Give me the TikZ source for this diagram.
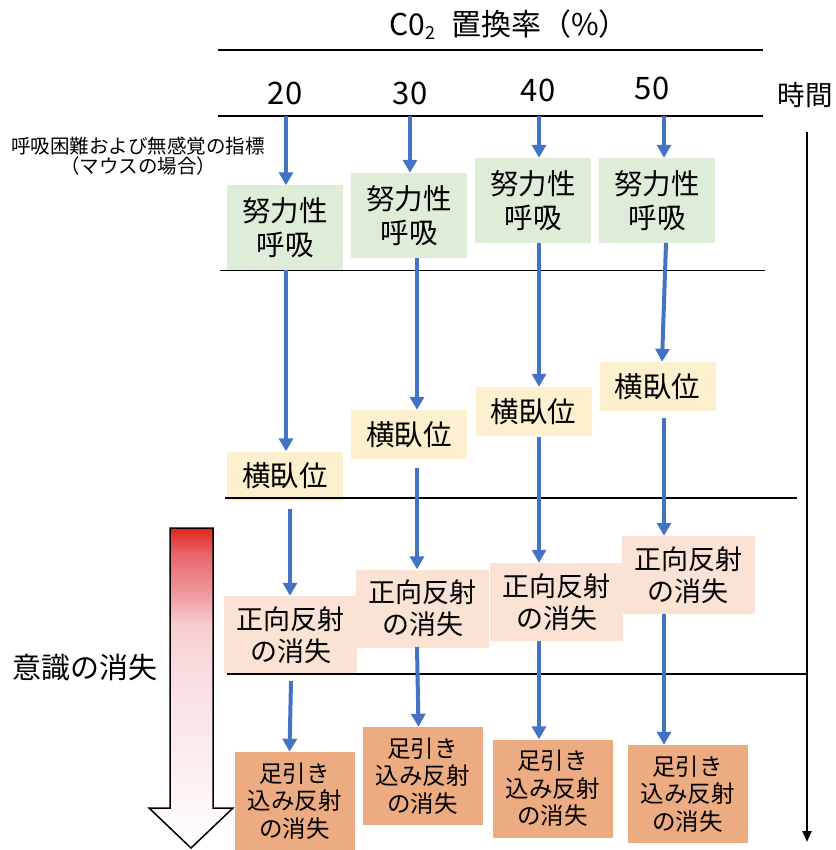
\documentclass[tikz,border=0pt]{standalone}
\usepackage{fontspec}
\setmainfont{Noto Sans CJK JP}
\usetikzlibrary{arrows.meta,calc}
\definecolor{gfill}{HTML}{DEEDD8}
\definecolor{yfill}{HTML}{FDF0CE}
\definecolor{pfill}{HTML}{FAE3D5}
\definecolor{ofill}{HTML}{ECAB80}
\definecolor{arrblue}{HTML}{4472C4}
\definecolor{sA}{HTML}{FCEEEF}
\definecolor{sB}{HTML}{F9DCDF}
\definecolor{sC}{HTML}{F6CDD0}
\definecolor{sD}{HTML}{F0A0A5}
\definecolor{sE}{HTML}{E86568}
\definecolor{sF}{HTML}{E32320}
\pgfdeclareverticalshading{consc}{100bp}{color(0bp)=(white); color(25bp)=(white); color(38bp)=(sA); color(53bp)=(sB); color(60bp)=(sC); color(64bp)=(sD); color(71bp)=(sE); color(75bp)=(sF); color(100bp)=(sF)}
\begin{document}
\begin{tikzpicture}[x=1pt,y=-1pt,
  box/.style={inner sep=0pt, align=center, text=black},
  gbox/.style={box, fill=gfill, minimum width=116pt, minimum height=85pt, font=\fontsize{28.5}{34}\selectfont},
  ybox/.style={box, fill=yfill, minimum width=116pt, minimum height=49pt, font=\fontsize{28.5}{34}\selectfont},
  pbox/.style={box, fill=pfill, minimum width=133pt, minimum height=78pt, font=\fontsize{27}{32}\selectfont},
  obox/.style={box, fill=ofill, minimum width=120pt, minimum height=98pt, font=\fontsize{23.5}{27.5}\selectfont},
  arr/.style={draw=arrblue, line width=4pt, -{Triangle[width=14pt,length=13pt]}},
  rule/.style={draw=black, line width=1.5pt},
  lbl/.style={inner sep=0pt, align=center}
]
\useasboundingbox (0,0) rectangle (835,850);

% boxes
\node[gbox] (G1) at (285,228) {努力性\\呼吸};
\node[gbox] (G2) at (409,215.5) {努力性\\呼吸};
\node[gbox] (G3) at (533,200.5) {努力性\\呼吸};
\node[gbox] (G4) at (657,200.5) {努力性\\呼吸};

\node[ybox] (Y1) at (285,476) {横臥位};
\node[ybox] (Y2) at (409,434.5) {横臥位};
\node[ybox] (Y3) at (533.5,411.5) {横臥位};
\node[ybox] (Y4) at (657.5,386.5) {横臥位};

\node[pbox] (P1) at (290.5,635) {正向反射\\の消失};
\node[pbox] (P2) at (422.5,608.5) {正向反射\\の消失};
\node[pbox] (P3) at (556.5,602) {正向反射\\の消失};
\node[pbox] (P4) at (688,575) {正向反射\\の消失};

\node[obox] (O1) at (294.5,801) {足引き\\込み反射\\の消失};
\node[obox] (O2) at (422.5,776) {足引き\\込み反射\\の消失};
\node[obox] (O3) at (552.5,788.5) {足引き\\込み反射\\の消失};
\node[obox] (O4) at (687.5,794) {足引き\\込み反射\\の消失};

% horizontal rules
\coordinate (h1a) at (218,50);  \coordinate (h1b) at (763,50);
\coordinate (h2a) at (218,116); \coordinate (h2b) at (763,116);
\coordinate (h3a) at (220,270.5); \coordinate (h3b) at (765,270.5);
\coordinate (h4a) at (225,498); \coordinate (h4b) at (797,498);
\coordinate (h5a) at (227,674); \coordinate (h5b) at (807,674);
\draw[rule] (h1a) -- (h1b);
\draw[rule] (h2a) -- (h2b);
\draw[rule] (h3a) -- (h3b);
\draw[rule] (h4a) -- (h4b);
\draw[rule] (h5a) -- (h5b);

% time axis
\coordinate (t0) at (807,132);
\coordinate (t1) at (807,842);
\draw[line width=2.2pt, -{Triangle[width=9pt,length=11pt]}] (t0) -- (t1);

% texts
\node[lbl, font=\fontsize{30}{34}\selectfont] (title) at (509,25) {C0\raisebox{-4pt}{\fontsize{18}{18}\selectfont 2}\hspace{16pt}置換率（\%）};
\node[lbl, font=\fontsize{31}{34}\selectfont] (n20) at (285,93) {20};
\node[lbl, font=\fontsize{31}{34}\selectfont] (n30) at (410,93) {30};
\node[lbl, font=\fontsize{31}{34}\selectfont] (n40) at (538,90) {40};
\node[lbl, font=\fontsize{31}{34}\selectfont] (n50) at (652,88) {50};
\node[lbl, font=\fontsize{27.5}{32}\selectfont] (time) at (805,95) {時間};
\node[lbl, font=\fontsize{19.5}{19.5}\selectfont] (idx) at (138,156) {呼吸困難および無感覚の指標\\（マウスの場合）};
\node[lbl, font=\fontsize{29}{34}\selectfont] (consc) at (85,668) {意識の消失};

% big gradient arrow
\path[shading=consc, draw=black, line width=1.5pt]
  (170,528) -- (213,528) -- (213,808) -- (233,808) -- (191,848) -- (149,808) -- (170,808) -- cycle;

% column 1 arrows
\coordinate (a11) at (286,116);
\coordinate (a12) at (286,270);
\coordinate (a13) at (290,509);
\coordinate (a14) at (291,681);
\draw[arr] (a11) -- (G1.north -| a11);
\draw[arr] (a12) -- (Y1.north -| a12);
\draw[arr] (a13) -- (P1.north -| a13);
\draw[arr] (a14) -- ([xshift=-5pt]O1.north);

% column 2 arrows
\coordinate (a21) at (410,116);
\coordinate (a22) at (417,258);
\coordinate (a23) at (417,468);
\coordinate (a24) at (417,647);
\draw[arr] (a21) -- (G2.north -| a21);
\draw[arr] (a22) -- (Y2.north -| a22);
\draw[arr] (a23) -- (P2.north -| a23);
\draw[arr] (a24) -- ([xshift=-4pt]O2.north);

% column 3 arrows
\coordinate (a31) at (539,116);
\coordinate (a32) at (539,243);
\coordinate (a33) at (539,437);
\coordinate (a34) at (539,641);
\draw[arr] (a31) -- (G3.north -| a31);
\draw[arr] (a32) -- (Y3.north -| a32);
\draw[arr] (a33) -- (P3.north -| a33);
\draw[arr] (a34) -- (O3.north -| a34);

% column 4 arrows
\coordinate (a41) at (664,116);
\coordinate (a42) at (666,243);
\coordinate (a43) at (664,418);
\coordinate (a44) at (664,614);
\draw[arr] (a41) -- (G4.north -| a41);
\draw[arr] (a42) -- ([xshift=4.5pt]Y4.north);
\draw[arr] (a43) -- (P4.north -| a43);
\draw[arr] (a44) -- (O4.north -| a44);
\end{tikzpicture}
\end{document}
